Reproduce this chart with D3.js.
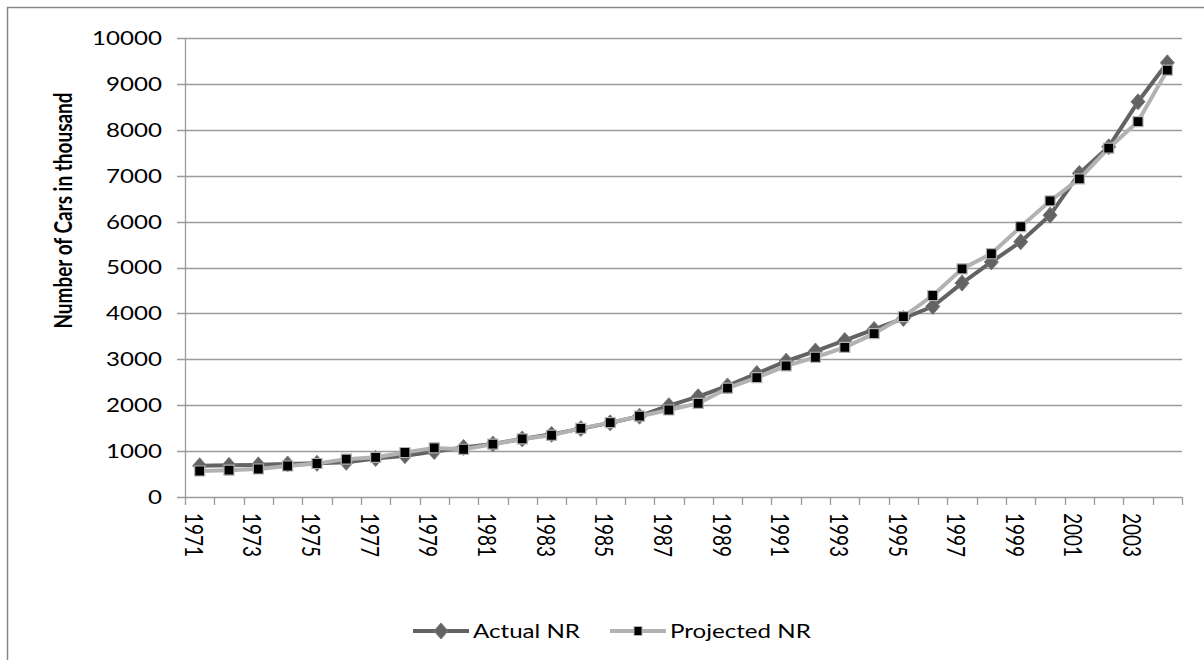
<!DOCTYPE html>
<html><head><meta charset="utf-8">
<script src="https://cdn.jsdelivr.net/npm/d3@7"></script>
<style>body{margin:0;background:#fff}svg{display:block}</style>
</head><body>
<svg id="c" width="1204" height="660"></svg>
<script>
const years = [1971,1972,1973,1974,1975,1976,1977,1978,1979,1980,1981,1982,1983,1984,1985,1986,1987,1988,1989,1990,1991,1992,1993,1994,1995,1996,1997,1998,1999,2000,2001,2002,2003,2004];
const actualNR = [680,690,700,720,735,755,840,900,990,1080,1155,1265,1365,1490,1615,1760,1990,2185,2420,2690,2960,3180,3410,3650,3890,4150,4660,5120,5560,6140,7050,7630,8610,9460];
const projectedNR = [566,585,610,675,730,825,865,970,1070,1040,1150,1265,1345,1495,1620,1760,1895,2040,2370,2600,2855,3045,3260,3560,3930,4390,4970,5300,5890,6450,6930,7600,8180,9300];
const yTicks = [0,1000,2000,3000,4000,5000,6000,7000,8000,9000,10000];
const seriesNames = ["Actual NR","Projected NR"];
const yTitle = "Number of Cars in thousand";

(function(){
const SX = 1.27; // horizontal text stretch
const svg = d3.select("#c");
const font = "Lato, sans-serif";
const fs = 19;
const pL = 185, pR = 1182, pT = 38, pB = 497;

svg.append("rect").attr("x",7.5).attr("y",7.5).attr("width",1210).attr("height",660)
  .attr("fill","#fff").attr("stroke","#868686").attr("stroke-width",1.5);

const x = d3.scaleBand().domain(years).range([pL,pR]);
const y = d3.scaleLinear().domain([0,10000]).range([pB,pT]);

svg.append("g").selectAll("line").data(yTicks).join("line")
  .attr("x1",pL-8).attr("x2",pR).attr("y1",d=>Math.round(y(d))+0.5).attr("y2",d=>Math.round(y(d))+0.5)
  .attr("stroke","#9b9b9b").attr("stroke-width",1.3);

svg.append("line").attr("x1",pL+0.5).attr("x2",pL+0.5).attr("y1",pT).attr("y2",pB)
  .attr("stroke","#9b9b9b").attr("stroke-width",1.3);

const bounds = years.map(d=>x(d)).concat([pR]);
svg.append("g").selectAll("line").data(bounds).join("line")
  .attr("x1",d=>Math.round(d)+0.5).attr("x2",d=>Math.round(d)+0.5).attr("y1",pB).attr("y2",pB+8)
  .attr("stroke","#9b9b9b").attr("stroke-width",1.3);

svg.append("g").selectAll("text").data(yTicks).join("text")
  .attr("transform",d=>`translate(${pL-23},${y(d)}) scale(${SX},1)`)
  .attr("text-anchor","end").attr("dominant-baseline","central")
  .attr("font-family",font).attr("font-size",fs).attr("fill","#000")
  .text(d=>d);

svg.append("g").selectAll("text").data(years.filter((d,i)=>i%2===0)).join("text")
  .attr("transform",d=>`translate(${x(d)+x.bandwidth()/2-6},${pB+16}) scale(${SX},1) rotate(90)`)
  .attr("text-anchor","start").attr("dominant-baseline","central")
  .attr("font-family",font).attr("font-size",fs).attr("fill","#000")
  .text(d=>d);

svg.append("text")
  .attr("transform",`translate(63,${(pT+pB)/2-57}) scale(${SX},1) rotate(-90)`)
  .attr("text-anchor","middle").attr("dominant-baseline","central")
  .attr("font-family",font).attr("font-weight","bold").attr("font-size",fs).attr("fill","#000")
  .text(yTitle);

const cx = d=>x(d)+x.bandwidth()/2;
const lineA = d3.line().x((d,i)=>cx(years[i])).y(d=>y(d));

const diamond = "M0,-8L7,0L0,8L-7,0Z";
const square = "M-5,-5L5,-5L5,5L-5,5Z";

svg.append("path").datum(actualNR).attr("d",lineA).attr("fill","none")
  .attr("stroke","#636363").attr("stroke-width",4).attr("stroke-linejoin","round");
svg.append("g").selectAll("path").data(actualNR).join("path")
  .attr("d",diamond).attr("transform",(d,i)=>`translate(${cx(years[i])},${y(d)})`)
  .attr("fill","#636363").attr("stroke","#7a7a7a").attr("stroke-width",1);

svg.append("path").datum(projectedNR).attr("d",lineA).attr("fill","none")
  .attr("stroke","#b2b2b2").attr("stroke-width",4).attr("stroke-linejoin","round");
svg.append("g").selectAll("path").data(projectedNR).join("path")
  .attr("d",square).attr("transform",(d,i)=>`translate(${cx(years[i])},${y(d)})`)
  .attr("fill","#000").attr("stroke","#b2b2b2").attr("stroke-width",1.2);

const leg = svg.append("g");
const legY = 631;
const items = [
  {name:seriesNames[0], x1:413, x2:469, color:"#636363", marker:diamond, mfill:"#636363", mstroke:"#7a7a7a", tx:473},
  {name:seriesNames[1], x1:610, x2:666, color:"#b2b2b2", marker:"M-4,-4.5L4,-4.5L4,4.5L-4,4.5Z", mfill:"#000", mstroke:"#b2b2b2", tx:670}
];
items.forEach(it=>{
  leg.append("line").attr("x1",it.x1).attr("x2",it.x2).attr("y1",legY).attr("y2",legY)
    .attr("stroke",it.color).attr("stroke-width",4);
  leg.append("path").attr("d",it.marker).attr("transform",`translate(${(it.x1+it.x2)/2},${legY})`)
    .attr("fill",it.mfill).attr("stroke",it.mstroke).attr("stroke-width",1);
  leg.append("text").attr("transform",`translate(${it.tx},${legY}) scale(${SX},1)`)
    .attr("dominant-baseline","central").attr("font-family",font).attr("font-size",fs).attr("fill","#000")
    .text(it.name);
});
})();
</script>
</body></html>
